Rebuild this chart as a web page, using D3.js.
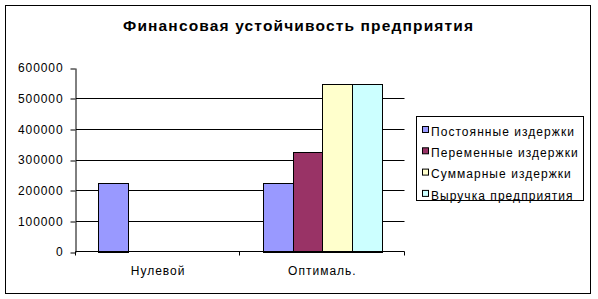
<!DOCTYPE html>
<html>
<head>
<meta charset="utf-8">
<script src="https://cdn.jsdelivr.net/npm/d3@7"></script>
<style>
  html, body { margin: 0; padding: 0; background: #fff; }
  text { font-family: "Liberation Sans", Arial, sans-serif; fill: #000; }
</style>
</head>
<body>
<div id="chart"></div>
<script>
"use strict";
(function() {

const WIDTH = 598
const HEIGHT = 299

const TITLE = "Финансовая устойчивость предприятия"
const categories = ["Нулевой", "Оптималь."]
const series = ["Постоянные издержки", "Переменные издержки", "Суммарные издержки", "Выручка предприятия"]
const colors = ["#9999FF", "#993366", "#FFFFCC", "#CCFFFF"]
// values per series, one per category
const fixedCosts = [222000, 222000]
const variableCosts = [0, 324000]
const totalCosts = [0, 546000]
const revenue = [0, 546000]
const yTicks = [0, 100000, 200000, 300000, 400000, 500000, 600000]

const values = [fixedCosts, variableCosts, totalCosts, revenue]

const plot = { left: 76, right: 404.5, top: 67.5, bottom: 251.5 }

var svg = d3.select("#chart").append("svg")
    .attr("width", WIDTH)
    .attr("height", HEIGHT)

// outer chart border
svg.append("rect")
    .attr("x", 5.5).attr("y", 5.5)
    .attr("width", 585).attr("height", 288)
    .attr("fill", "#fff")
    .attr("stroke", "#000")

svg.append("text").text(TITLE)
    .attr("x", 298).attr("y", 31)
    .attr("text-anchor", "middle")
    .attr("font-size", "15.5px")
    .attr("font-weight", "bold")
    .attr("textLength", 350)
    .attr("lengthAdjust", "spacing")

let x0 = d3.scaleBand().domain(categories).range([plot.left, plot.right])
let x1 = d3.scaleBand().domain(series).range([0, x0.bandwidth()]).paddingOuter(0.75)
let y = d3.scaleLinear().domain([0, 600000]).range([plot.bottom, plot.top])

// gridlines
svg.append("g").selectAll("line")
    .data(yTicks.filter(t => t > 0 && t < 600000))
    .join("line")
    .attr("x1", plot.left).attr("x2", plot.right)
    .attr("y1", d => Math.round(y(d)) + 0.5).attr("y2", d => Math.round(y(d)) + 0.5)
    .attr("stroke", "#000")

// bars
let rows = []
categories.forEach((c, ci) => {
    series.forEach((s, si) => {
        if (values[si][ci] > 0) rows.push({ c: c, s: s, si: si, v: values[si][ci] })
    })
})

svg.append("g").selectAll("rect")
    .data(rows)
    .join("rect")
    .attr("x", d => Math.round(x0(d.c) + x1(d.s)) + 0.5)
    .attr("y", d => Math.round(y(d.v)) + 0.5)
    .attr("width", d => Math.round(x1.bandwidth()))
    .attr("height", d => Math.round(y(0)) - Math.round(y(d.v)))
    .attr("fill", d => colors[d.si])
    .attr("stroke", "#000")

// y axis
let yAxis = svg.append("g")
    .attr("transform", `translate(${plot.left - 0.5},0.5)`)
    .call(d3.axisLeft(y).tickValues(yTicks).tickFormat(d3.format("d"))
        .tickSizeInner(5).tickSizeOuter(0).tickPadding(8))
yAxis.select(".domain").attr("stroke", "#000")
yAxis.selectAll(".tick line").attr("stroke", "#000")
    .attr("transform", d => `translate(0,${Math.round(y(d)) - y(d)})`)
yAxis.selectAll(".tick text")
    .attr("font-size", "12px")
    .attr("font-family", "Liberation Sans, Arial, sans-serif")
    .attr("letter-spacing", "0.9px")
    .attr("dx", "1px")
    .attr("fill", "#000")

// x axis
let xEdges = d3.scaleLinear().domain([0, categories.length]).range([plot.left, plot.right])
let xAxis = svg.append("g")
    .attr("transform", `translate(0,${plot.bottom})`)
xAxis.append("line")
    .attr("x1", plot.left - 0.5).attr("x2", plot.right)
    .attr("stroke", "#000")
xAxis.selectAll(".edge")
    .data(d3.range(categories.length + 1))
    .join("line")
    .attr("x1", d => Math.round(xEdges(d)) - 0.5).attr("x2", d => Math.round(xEdges(d)) - 0.5)
    .attr("y1", 0).attr("y2", 4)
    .attr("stroke", "#000")
xAxis.selectAll("text")
    .data(categories)
    .join("text")
    .text(d => d)
    .attr("x", d => x0(d) + x0.bandwidth() / 2)
    .attr("y", 23.5)
    .attr("text-anchor", "middle")
    .attr("font-size", "12px")
    .attr("letter-spacing", "1px")

// legend
let legend = svg.append("g").attr("transform", "translate(417,117)")
legend.append("rect")
    .attr("x", -0.5).attr("y", -0.5)
    .attr("width", 167).attr("height", 84)
    .attr("fill", "#fff")
    .attr("stroke", "#000")
let items = legend.selectAll(".item")
    .data(series)
    .join("g")
    .attr("transform", (d, i) => `translate(0,${14 + i * 21.3})`)
items.append("rect")
    .attr("x", 5.5).attr("y", -4.5)
    .attr("width", 6).attr("height", 6)
    .attr("fill", (d, i) => colors[i])
    .attr("stroke", "#000")
items.append("text")
    .text(d => d)
    .attr("x", 14).attr("y", 0.5)
    .attr("dy", "0.35em")
    .attr("font-size", "12px")
    .attr("letter-spacing", "1.05px")

})();
</script>
</body>
</html>
